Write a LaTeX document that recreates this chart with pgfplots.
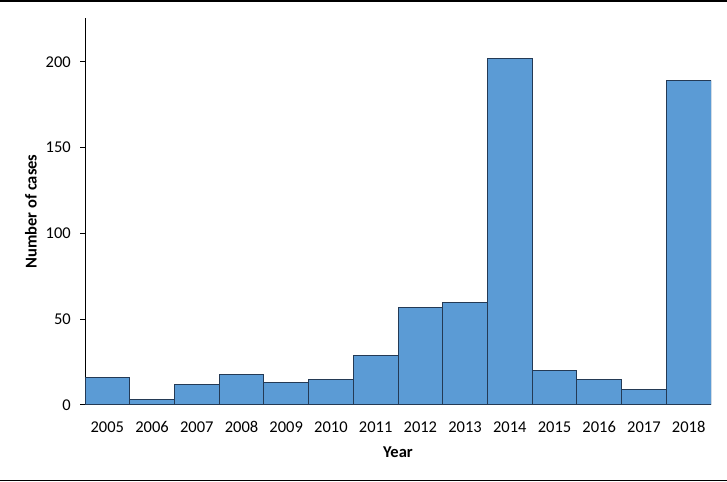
\documentclass[border=0pt]{standalone}
\usepackage{pgfplots}
\pgfplotsset{compat=1.18}
\usepackage{fontspec}
\setmainfont{Carlito}
\definecolor{barblue}{HTML}{5B9BD5}
\definecolor{baredge}{HTML}{243A55}
\begin{document}
\begin{tikzpicture}
  \path[use as bounding box] (0,0) rectangle (727bp,482bp);
  \draw[line width=2bp] (0,481bp) -- (727bp,481bp);
  \draw[line width=1bp] (0,1.5bp) -- (727bp,1.5bp);
  \begin{axis}[
    at={(85bp,77bp)}, anchor=south west,
    scale only axis,
    width=626bp, height=387bp,
    xmin=-0.5, xmax=13.5,
    ymin=0, ymax=225.6,
    axis x line*=bottom,
    axis y line*=left,
    axis line style={line width=1bp, black},
    xtick=data,
    xticklabels={2005,2006,2007,2008,2009,2010,2011,2012,2013,2014,2015,2016,2017,2018},
    xtick style={draw=none},
    ytick={0,50,100,150,200},
    ytick style={line width=1bp, black},
    tick align=outside,
    major tick length=5bp,
    /pgf/number format/assume math mode=true,
    tick label style={font=\fontsize{16.5bp}{19bp}\selectfont},
    xticklabel style={anchor=center, yshift=-17bp},
    yticklabel style={anchor=east, inner sep=0pt, xshift=-9bp},
    xlabel={\textbf{Year}},
    ylabel={\textbf{Number of cases}},
    label style={font=\fontsize{16.5bp}{19bp}\selectfont},
    xlabel style={at={(axis description cs:0.5,0)}, anchor=center, yshift=-47bp},
    ylabel style={at={(axis description cs:-0.0863,0.5)}, anchor=center},
  ]
  \addplot[ybar, bar width=1, fill=barblue, draw=baredge, line width=1bp]
    coordinates {
      (0,16) (1,3) (2,12) (3,18) (4,13) (5,15) (6,29)
      (7,57) (8,60) (9,202) (10,20) (11,15) (12,9) (13,189)
    };
  \end{axis}
\end{tikzpicture}
\end{document}
